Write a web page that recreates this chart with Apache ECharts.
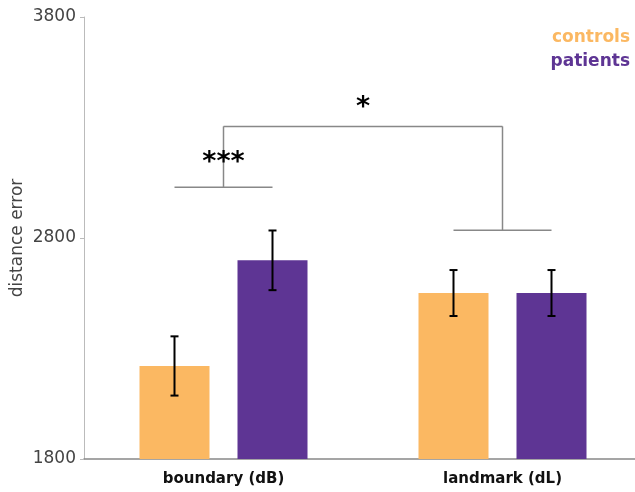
<!DOCTYPE html>
<html>
<head>
<meta charset="utf-8">
<script src="https://cdn.jsdelivr.net/npm/echarts@6/dist/echarts.min.js"></script>
<style>html,body{margin:0;padding:0;background:#fff}#c{width:635px;height:492px}</style>
</head>
<body>
<div id="c"></div>
<script>
const categories = ['boundary (dB)', 'landmark (dL)'];
const controlsMean = [2221, 2551];
const controlsErr = [134, 104];
const patientsMean = [2699, 2551];
const patientsErr = [135, 104];
const yTicks = [1800, 2800, 3800];
// significance brackets (data units)
const bracketLevel = [3030, 2835];
const bracketTop = 3305;
const starText = ['***', '*'];
const starFrom = [0, 0];
const starTo = [0, 1];
const starY = [3140, 3390];

const ORANGE = '#FBB862';
const PURPLE = '#5E3594';
const OFF = 49;

function errData(mean, err) {
  return mean.map((m, i) => [i, m - err[i], m + err[i]]);
}
function errRender(sign) {
  return function (params, api) {
    const p1 = api.coord([api.value(0), api.value(1)]);
    const p2 = api.coord([api.value(0), api.value(2)]);
    const x = p1[0] + sign * OFF;
    const st = { stroke: '#000', lineWidth: 2 };
    return {
      type: 'group',
      children: [
        { type: 'line', shape: { x1: x, y1: p1[1], x2: x, y2: p2[1] }, style: st },
        { type: 'line', shape: { x1: x - 4, y1: p1[1], x2: x + 4, y2: p1[1] }, style: st },
        { type: 'line', shape: { x1: x - 4, y1: p2[1], x2: x + 4, y2: p2[1] }, style: st }
      ]
    };
  };
}

const chart = echarts.init(document.getElementById('c'), null, { renderer: 'canvas' });
chart.setOption({
  animation: false,
  grid: { left: 84, top: 17, width: 558, height: 442, containLabel: false, outerBoundsMode: 'none' },
  legend: {
    orient: 'vertical', right: 0, top: 29, align: 'right',
    icon: 'none', itemWidth: 0, itemHeight: 0, itemGap: 7, padding: 0,
    selectedMode: false,
    textStyle: { fontFamily: 'DejaVu Sans', fontWeight: 'bold', fontSize: 17, padding: 0 },
    data: [
      { name: 'controls', textStyle: { color: ORANGE } },
      { name: 'patients', textStyle: { color: PURPLE } }
    ]
  },
  xAxis: {
    type: 'category', data: categories,
    axisLine: { lineStyle: { color: '#888', width: 1.5 } },
    axisTick: { show: false },
    axisLabel: { margin: 13, color: '#111', fontFamily: 'DejaVu Sans', fontWeight: 'bold', fontSize: 15 }
  },
  yAxis: {
    type: 'value', min: yTicks[0], max: yTicks[yTicks.length - 1], interval: yTicks[1] - yTicks[0],
    name: 'distance error', nameLocation: 'middle', nameRotate: 90, nameGap: 58, nameMoveOverlap: false,
    nameTextStyle: { color: '#444', fontFamily: 'DejaVu Sans', fontSize: 17 },
    axisLine: { show: true, lineStyle: { color: '#bbb', width: 1 } },
    axisTick: { show: true, length: 4, lineStyle: { color: '#bbb' } },
    splitLine: { show: false },
    axisLabel: { margin: 8, color: '#444', fontFamily: 'DejaVu Sans', fontSize: 17, formatter: v => String(v) }
  },
  series: [
    { name: 'controls', type: 'bar', data: controlsMean, barWidth: 70, barGap: '40%', itemStyle: { color: ORANGE } },
    { name: 'patients', type: 'bar', data: patientsMean, barWidth: 70, barGap: '40%', itemStyle: { color: PURPLE } },
    { type: 'custom', data: errData(controlsMean, controlsErr), encode: { x: 0, y: [1, 2] }, renderItem: errRender(-1), z: 5, silent: true },
    { type: 'custom', data: errData(patientsMean, patientsErr), encode: { x: 0, y: [1, 2] }, renderItem: errRender(1), z: 5, silent: true },
    {
      type: 'custom', z: 4, silent: true,
      data: bracketLevel.map((v, i) => [i, v, bracketTop]),
      encode: { x: 0, y: [1, 2] },
      renderItem: function (params, api) {
        const p = api.coord([api.value(0), api.value(1)]);
        const t = api.coord([api.value(0), api.value(2)]);
        const st = { stroke: '#888', lineWidth: 1.5 };
        const ch = [
          { type: 'line', shape: { x1: p[0] - OFF, y1: p[1], x2: p[0] + OFF, y2: p[1] }, style: st },
          { type: 'line', shape: { x1: p[0], y1: p[1], x2: p[0], y2: t[1] }, style: st }
        ];
        if (params.dataIndex === 0) {
          const q = api.coord([1, bracketTop]);
          ch.push({ type: 'line', shape: { x1: t[0], y1: t[1], x2: q[0], y2: q[1] }, style: st });
        }
        return { type: 'group', children: ch };
      }
    },
    {
      type: 'custom', z: 6, silent: true,
      data: starY.map((v, i) => [starFrom[i], v, starTo[i]]),
      encode: { x: 0, y: 1 },
      renderItem: function (params, api) {
        const a = api.coord([api.value(0), api.value(1)]);
        const b = api.coord([api.value(2), api.value(1)]);
        return {
          type: 'text',
          style: {
            x: (a[0] + b[0]) / 2, y: a[1], text: starText[params.dataIndex],
            fill: '#000', font: 'bold 27px "DejaVu Sans"', align: 'center', verticalAlign: 'middle'
          }
        };
      }
    }
  ]
});
</script>
</body>
</html>
